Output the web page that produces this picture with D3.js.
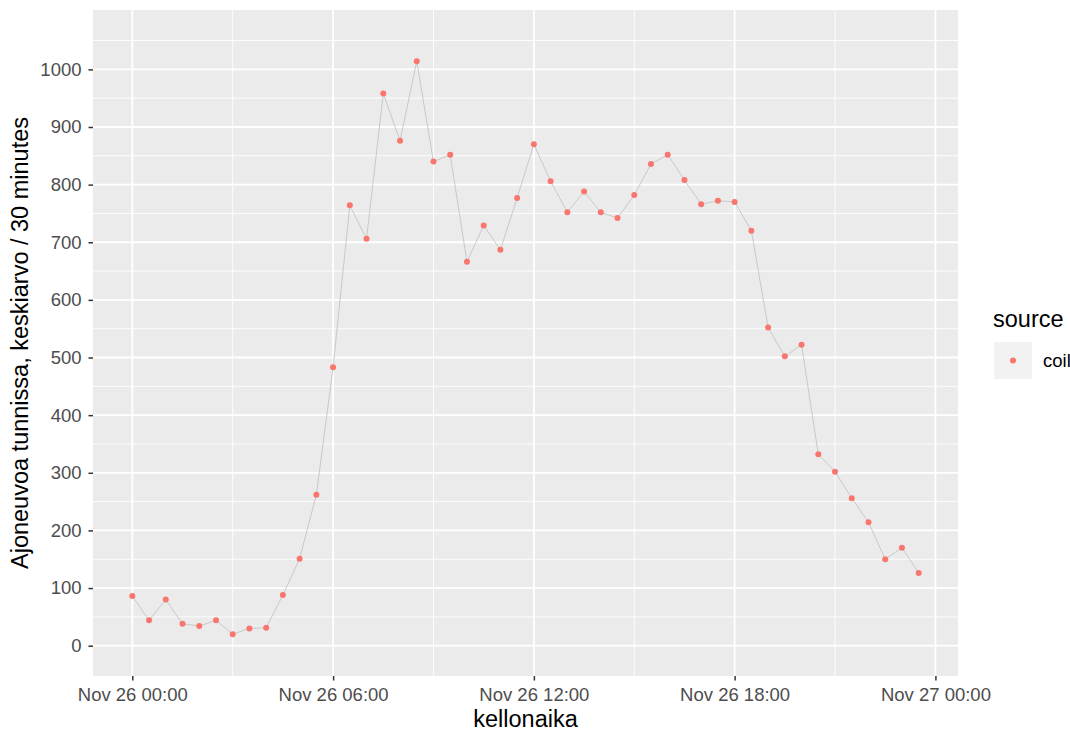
<!DOCTYPE html>
<head>
<meta charset="utf-8">
<script src="https://d3js.org/d3.v7.min.js"></script>
<style>
  body { margin: 0; background: #fff; }
  text { font-family: "Liberation Sans", Arial, sans-serif; }
</style>
</head>
<body>
<svg id="chart" width="1070" height="732"></svg>
<script>
  // vehicles in tunnel, mean per 30 minutes, Nov 26 00:00 .. 23:30
  const hours = d3.range(0, 24, 0.5);
  const vehicles = [86, 44, 80, 38, 34, 44, 20, 30, 31, 88, 151, 262,
    483, 764, 706, 958, 876, 1014, 840, 852, 666, 729, 687, 777,
    870, 806, 752, 788, 752, 742, 782, 836, 852, 808, 766, 772,
    770, 720, 552, 502, 522, 332, 302, 256, 214, 150, 170, 126];
  const yTicks = [0, 100, 200, 300, 400, 500, 600, 700, 800, 900, 1000];
  const xTicks = [0, 6, 12, 18, 24];
  const xTickLabels = ["Nov 26 00:00", "Nov 26 06:00", "Nov 26 12:00", "Nov 26 18:00", "Nov 27 00:00"];
  const seriesName = "coil";

  const svg = d3.select("#chart");
  const panel = { left: 93, right: 958, top: 10, bottom: 676 };

  const x = d3.scaleLinear().domain([-1.175, 24.675]).range([panel.left, panel.right]);
  const y = d3.scaleLinear().domain([-52.6, 1103]).range([panel.bottom, panel.top]);

  svg.append("rect")
    .attr("x", panel.left).attr("y", panel.top)
    .attr("width", panel.right - panel.left)
    .attr("height", panel.bottom - panel.top)
    .attr("fill", "#ebebeb");

  // minor grid
  const grid = svg.append("g");
  grid.selectAll("line.ymin")
    .data(d3.range(50, 1100, 100))
    .join("line")
    .attr("x1", panel.left).attr("x2", panel.right)
    .attr("y1", d => y(d)).attr("y2", d => y(d))
    .attr("stroke", "#fff").attr("stroke-width", 0.9);
  grid.selectAll("line.xmin")
    .data([3, 9, 15, 21])
    .join("line")
    .attr("y1", panel.top).attr("y2", panel.bottom)
    .attr("x1", d => x(d)).attr("x2", d => x(d))
    .attr("stroke", "#fff").attr("stroke-width", 0.9);

  // major grid
  grid.selectAll("line.ymaj")
    .data(yTicks)
    .join("line")
    .attr("x1", panel.left).attr("x2", panel.right)
    .attr("y1", d => y(d)).attr("y2", d => y(d))
    .attr("stroke", "#fff").attr("stroke-width", 1.8);
  svg.append("g").selectAll("line")
    .data(xTicks)
    .join("line")
    .attr("y1", panel.top).attr("y2", panel.bottom)
    .attr("x1", d => x(d)).attr("x2", d => x(d))
    .attr("stroke", "#fff").attr("stroke-width", 1.8);

  // axes
  const yAxis = svg.append("g")
    .attr("transform", `translate(${panel.left},0)`)
    .call(d3.axisLeft(y).tickValues(yTicks).tickSize(4.5).tickPadding(7)
      .tickFormat(d3.format("d")));
  const xAxis = svg.append("g")
    .attr("transform", `translate(0,${panel.bottom})`)
    .call(d3.axisBottom(x).tickValues(xTicks).tickSize(4.5).tickPadding(7)
      .tickFormat((d, i) => xTickLabels[i]));
  [yAxis, xAxis].forEach(a => {
    a.select(".domain").remove();
    a.selectAll("line").attr("stroke", "#333").attr("stroke-width", 1.5);
    a.selectAll("text").attr("fill", "#4d4d4d").style("font-size", "18.5px")
      .style("font-family", "'Liberation Sans', Arial, sans-serif");
  });

  // line and points
  const pts = hours.map((h, i) => [h, vehicles[i]]);
  svg.append("path")
    .datum(pts)
    .attr("fill", "none")
    .attr("stroke", "#c4c4c4")
    .attr("stroke-width", 0.9)
    .attr("d", d3.line().x(d => x(d[0])).y(d => y(d[1])));
  svg.append("g").selectAll("circle")
    .data(pts)
    .join("circle")
    .attr("cx", d => x(d[0]))
    .attr("cy", d => y(d[1]))
    .attr("r", 3)
    .attr("fill", "#F8766D");

  // axis titles
  svg.append("text")
    .attr("x", (panel.left + panel.right) / 2).attr("y", 727)
    .attr("text-anchor", "middle")
    .style("font-size", "23.5px")
    .text("kellonaika");
  svg.append("text")
    .attr("transform", `translate(28,${(panel.top + panel.bottom) / 2}) rotate(-90)`)
    .attr("text-anchor", "middle")
    .style("font-size", "23.5px")
    .text("Ajoneuvoa tunnissa, keskiarvo / 30 minutes");

  // legend
  const legend = svg.append("g");
  legend.append("text")
    .attr("x", 993).attr("y", 327)
    .style("font-size", "23.5px")
    .text("source");
  legend.append("rect")
    .attr("x", 994).attr("y", 342).attr("width", 38).attr("height", 37)
    .attr("fill", "#f2f2f2");
  legend.append("circle")
    .attr("cx", 1013).attr("cy", 360.5).attr("r", 3)
    .attr("fill", "#F8766D");
  legend.append("text")
    .attr("x", 1043).attr("y", 367)
    .style("font-size", "18.5px")
    .text(seriesName);
</script>
</body>
